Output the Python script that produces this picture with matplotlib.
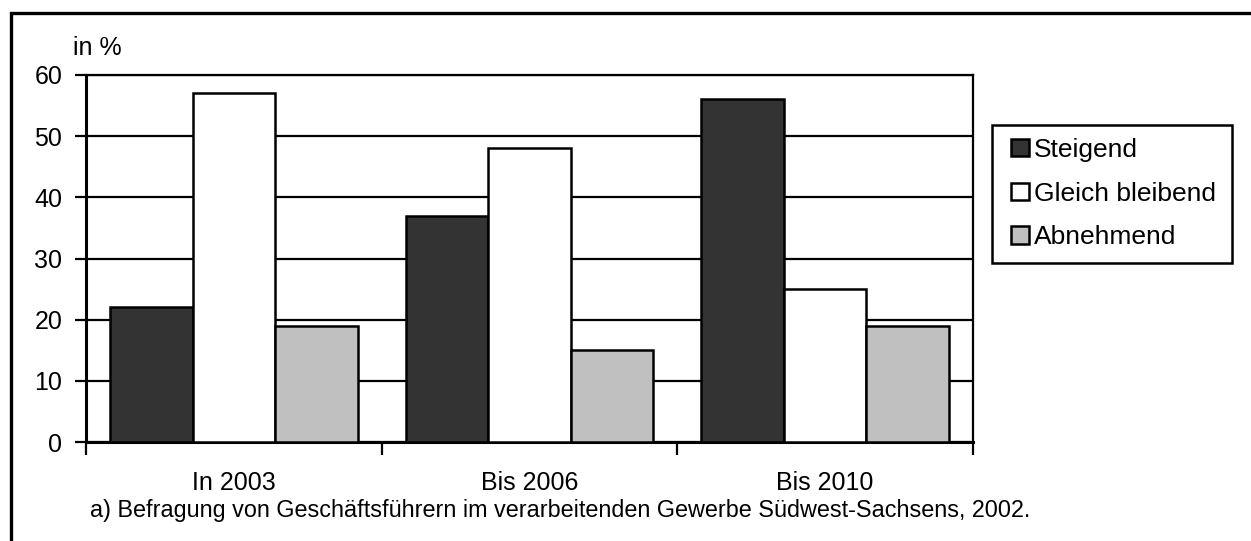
import numpy as np
import matplotlib.pyplot as plt
from matplotlib.patches import Rectangle

plt.rcParams['font.family'] = ['Liberation Sans', 'DejaVu Sans']

categories = ["In 2003", "Bis 2006", "Bis 2010"]
series = ["Steigend", "Gleich bleibend", "Abnehmend"]
steigend = [22, 37, 56]
gleich = [57, 48, 25]
abnehmend = [19, 15, 19]
colors = ["#333333", "#ffffff", "#c0c0c0"]

fig = plt.figure(figsize=(12.51, 5.41), dpi=100)
W, H = 1251, 541
ax = fig.add_axes([86 / W, 1 - 442 / H, (973 - 86) / W, (442 - 75) / H])

# äußerer Rahmen
fig.add_artist(Rectangle((11 / W, -0.1), 1.2, 1 - 13 / H + 0.1, transform=fig.transFigure,
                         fill=False, edgecolor="black", linewidth=2.4))

ax.set_axisbelow(True)
ax.yaxis.grid(True, color="black", linewidth=1.6)

x = np.arange(len(categories))
bw = 0.279
for i, (vals, lab) in enumerate(zip([steigend, gleich, abnehmend], series)):
    ax.bar(x + (i - 1) * bw, vals, bw, color=colors[i], edgecolor="black",
           linewidth=1.8, label=lab, zorder=3)

ax.set_xlim(-0.5, 2.5)
ax.set_ylim(0, 60)
ax.set_yticks(range(0, 61, 10))
ax.set_xticks([-0.5, 0.5, 1.5, 2.5])
ax.set_xticklabels([])
ax.set_xticks(x, minor=True)
ax.set_xticklabels(categories, minor=True)
ax.tick_params(axis="x", which="major", direction="out", length=9, width=1.6)
ax.tick_params(axis="x", which="minor", length=0, pad=21, labelsize=18)
ax.tick_params(axis="y", direction="out", length=8, width=1.6, labelsize=18, pad=9)

for s in ["left", "bottom"]:
    ax.spines[s].set_linewidth(2.2)
for s in ["top", "right"]:
    ax.spines[s].set_linewidth(1.6)

fig.text(73 / W, 1 - 48 / H, "in %", fontsize=18, va="center", ha="left")
fig.text(90 / W, 1 - 511 / H,
         "a) Befragung von Geschäftsführern im verarbeitenden Gewerbe Südwest-Sachsens, 2002.",
         fontsize=16.8, va="center", ha="left")

# Legendenrahmen separat, damit der Innenabstand links größer ist
fig.add_artist(Rectangle((992 / W, 1 - 263 / H), (1232 - 992) / W, (263 - 125) / H,
                         transform=fig.transFigure, fill=False, edgecolor="black",
                         linewidth=1.8))
leg = ax.legend(loc="upper left", bbox_to_anchor=(1011 / W, 1 - 138 / H),
                bbox_transform=fig.transFigure, fontsize=19, frameon=False,
                borderpad=0, handlelength=0.68, handleheight=0.64, handletextpad=0.2,
                labelspacing=0.74, borderaxespad=0)

fig.savefig("out.png", dpi=100, facecolor="white")
